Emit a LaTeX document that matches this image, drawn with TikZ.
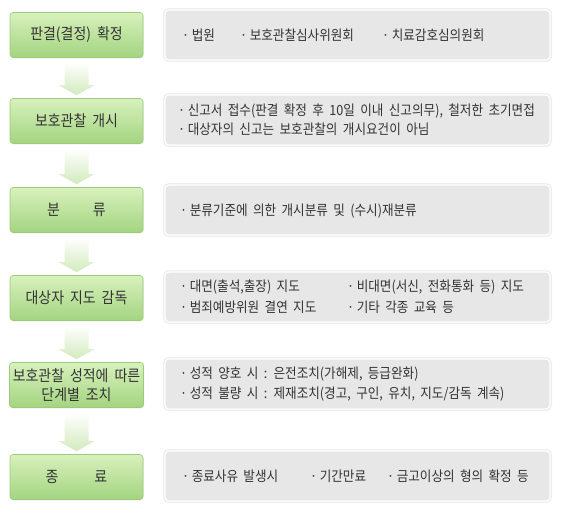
\documentclass[tikz,border=0pt]{standalone}
\usepackage{fontspec}
\setmainfont{Noto Sans CJK KR}[FakeStretch=0.9, WordSpace=1.9]
\usetikzlibrary{shadows}
\definecolor{stagetop}{HTML}{D8F1BD}
\definecolor{stagebot}{HTML}{A3D480}
\definecolor{stageline}{HTML}{9BCB78}
\definecolor{notefill}{HTML}{E7E7E7}
\definecolor{noteline}{HTML}{EEEEEE}
\definecolor{flowbot}{HTML}{D2EABD}
\definecolor{inktext}{HTML}{333333}
\newcommand{\bul}{·\hspace{2.5pt}}

\begin{document}
\begin{tikzpicture}[x=1pt, y=-1pt,
    stage/.style={rectangle, rounded corners=3pt, minimum width=133pt, minimum height=45pt,
      top color=stagetop, bottom color=stagebot, draw=stageline, line width=0.6pt,
      text=inktext, font=\fontsize{15.5}{19}\selectfont, align=center,
      drop shadow={opacity=0.12, shadow xshift=0.8pt, shadow yshift=-1pt}},
    note/.style={rectangle, rounded corners=4pt, minimum width=385pt, minimum height=50pt,
      fill=notefill, draw=white, line width=1.2pt, preaction={draw=noteline, line width=4pt}},
    item/.style={anchor=west, inner sep=0pt, text=inktext, font=\fontsize{14}{16}\selectfont},
    flow/.style={top color=white, bottom color=flowbot}]
  \useasboundingbox (0,0) rectangle (571,517);

  % stages
  \node[stage] (s1) at (76.5,35) {판결(결정) 확정};
  \node[stage] (s2) at (76.5,121) {보호관찰 개시};
  \node[stage] (s3) at (76.5,210) {분\hspace{33pt}류};
  \node[stage] (s4) at (76.5,298) {대상자 지도 감독};
  \node[stage] (s5) at (76.5,385) {보호관찰 성적에 따른\\단계별 조치};
  \node[stage] (s6) at (76.5,477) {종\hspace{36pt}료};

  % notes
  \node[note] (n1) at (357.5,35) {};
  \node[note] (n2) at (357.5,120) {};
  \node[note] (n3) at (357.5,210) {};
  \node[note] (n4) at (357.5,297) {};
  \node[note] (n5) at (357.5,384) {};
  \node[note] (n6) at (357.5,476) {};

  \node[item] (t11) at (182,35) {\bul 법원};
  \node[item] (t12) at (240,35) {\bul 보호관찰심사위원회};
  \node[item] (t13) at (382,35) {\bul 치료감호심의원회};

  \node[item] (t21) at (178,111) {\bul 신고서 접수(판결 확정 후 10일 이내 신고의무), 철저한 초기면접};
  \node[item] (t22) at (178,129) {\bul 대상자의 신고는 보호관찰의 개시요건이 아님};

  \node[item] (t31) at (180,211) {\bul 분류기준에 의한 개시분류 및 (수시)재분류};

  \node[item] (t41) at (180,287) {\bul 대면(출석,출장) 지도};
  \node[item] (t42) at (347,287) {\bul 비대면(서신, 전화통화 등) 지도};
  \node[item] (t43) at (180,307) {\bul 범죄예방위원 결연 지도};
  \node[item] (t44) at (347,307) {\bul 기타 각종 교육 등};

  \node[item] (t51) at (180,374) {\bul 성적 양호 시 : 은전조치(가해제, 등급완화)};
  \node[item] (t52) at (180,394) {\bul 성적 불량 시 : 제재조치(경고, 구인, 유치, 지도/감독 계속)};

  \node[item] (t61) at (182,476) {\bul 종료사유 발생시};
  \node[item] (t62) at (310,476) {\bul 기간만료};
  \node[item] (t63) at (387,476) {\bul 금고이상의 형의 확정 등};

  % arrows between stages
  \foreach \a/\b in {s1/s2, s2/s3, s3/s4, s4/s5, s5/s6}
    \shade[flow] ([xshift=-12pt, yshift=-5pt]\a.south) -- ([xshift=12pt, yshift=-5pt]\a.south)
      -- ([xshift=12pt, yshift=13pt]\b.north) -- ([xshift=18pt, yshift=13pt]\b.north)
      -- ([yshift=3pt]\b.north) -- ([xshift=-18pt, yshift=13pt]\b.north)
      -- ([xshift=-12pt, yshift=13pt]\b.north) -- cycle;
\end{tikzpicture}
\end{document}
